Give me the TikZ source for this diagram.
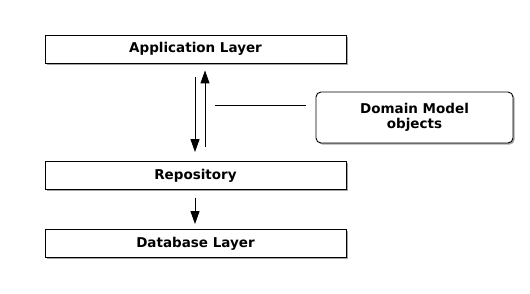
\documentclass[tikz,border=0pt]{standalone}
\usepackage{fontspec}
\setmainfont{DejaVu Sans}
\usetikzlibrary{arrows.meta,shadows}
\begin{document}
\begin{tikzpicture}[x=1pt,y=-1pt,
  layer/.style={draw,line width=0.9pt,fill=white,minimum width=301pt,minimum height=28pt,
    inner sep=0pt,font=\bfseries\fontsize{13.5}{15}\selectfont,
    drop shadow={shadow xshift=1.6pt,shadow yshift=-1.6pt,opacity=0.5,fill=black!70}},
  note/.style={layer,rounded corners=5pt,minimum width=197pt,minimum height=51pt,align=center},
  arr/.style={-{Triangle[length=13pt,width=9pt]},line width=1pt},
  link/.style={line width=0.8pt}]
  \useasboundingbox (0,0) rectangle (530,294);
  % layers of the stack
  \node[layer] (app)  at (195.5,49)    {Application Layer};
  \node[layer] (repo) at (195.5,175.5) {Repository};
  \node[layer] (db)   at (195.5,243.5) {Database Layer};
  \node[note]  (dom)  at (414.5,117.5) {Domain Model\\objects};
  % x positions of the two vertical connectors
  \coordinate (down) at (195,0);
  \coordinate (up)   at (205,0);
  \coordinate (tail) at (215,105);
  % requests go down, domain objects come back up
  \draw[arr,shorten <=14pt,shorten >=9pt] (app.south -| down) -- (repo.north -| down);
  \draw[arr,shorten <=14pt,shorten >=7pt] (repo.north -| up) -- (app.south -| up);
  \draw[link,shorten >=10pt] (tail) -- (tail -| dom.west);
  \draw[arr,shorten <=8pt,shorten >=5pt] (repo.south -| down) -- (db.north -| down);
\end{tikzpicture}
\end{document}
